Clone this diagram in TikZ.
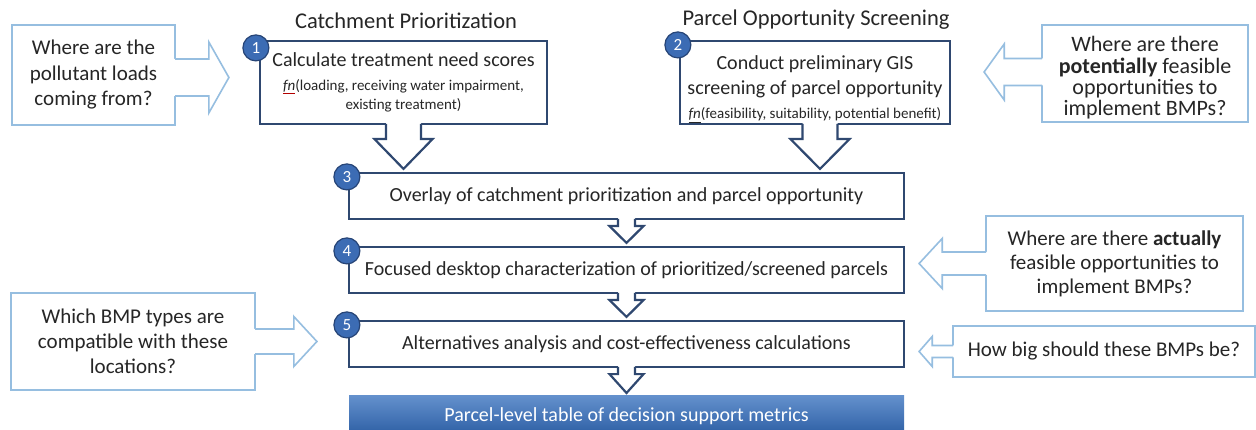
\documentclass[tikz,border=0pt]{standalone}
\usepackage{fontspec}
\setmainfont{Carlito}
\usetikzlibrary{calc}
\definecolor{boxc}{RGB}{47,72,112}
\definecolor{qc}{RGB}{150,190,224}
\definecolor{numfill}{RGB}{60,108,180}
\definecolor{numdraw}{RGB}{38,68,118}
\definecolor{txt}{RGB}{38,38,38}
\definecolor{barTop}{RGB}{100,145,205}
\definecolor{barBot}{RGB}{42,92,162}
\tikzset{
 stepbox/.style={draw=boxc, line width=2.2pt, fill=white, inner sep=0pt, align=center, text=txt},
 qbox/.style={draw=qc, line width=1.6pt, fill=white, inner sep=0pt, align=center, text=txt},
 qline/.style={draw=qc, line width=1.6pt, line join=miter},
 bline/.style={draw=boxc, line width=2.2pt, line join=miter},
 numc/.style={circle, fill=numfill, draw=numdraw, line width=1.2pt, minimum size=26pt, inner sep=0pt, text=white, font=\fontsize{17}{17}\selectfont},
 ttl/.style={text=txt, font=\fontsize{22.5}{22.5}\selectfont},
 barbox/.style={top color=barTop, bottom color=barBot, draw=none, inner sep=0pt, text=white, font=\fontsize{20}{20}\selectfont},
}
\newcommand{\bigtxt}{\fontsize{20}{24}\selectfont}
\newcommand{\smltxt}{\fontsize{15}{19}\selectfont}
\newcommand{\blockdown}[5]{%
 \fill[white] ($(#1)+(-#3,-2)$) -- ($(#1)+(#3,-2)$) -- ($(#1)+(#3,#5)$) -- ($(#1)+(#4,#5)$) -- (#2) -- ($(#1)+(-#4,#5)$) -- ($(#1)+(-#3,#5)$) -- cycle;
 \draw[bline] ($(#1)+(-#3,-1.1)$) -- ($(#1)+(-#3,#5)$) -- ($(#1)+(-#4,#5)$) -- (#2) -- ($(#1)+(#4,#5)$) -- ($(#1)+(#3,#5)$) -- ($(#1)+(#3,-1.1)$);
}
\newcommand{\hcallout}[5]{%
 \coordinate (hcE) at ($(#1)!-1.8pt!(#2)$);
 \coordinate (hcS) at ($(#1)!-0.8pt!(#2)$);
 \fill[white] ($(hcE)+(0,-#3)$) -- ($(#1)+(#5,-#3)$) -- ($(#1)+(#5,-#4)$) -- (#2) -- ($(#1)+(#5,#4)$) -- ($(#1)+(#5,#3)$) -- ($(hcE)+(0,#3)$) -- cycle;
 \draw[qline] ($(hcS)+(0,-#3)$) -- ($(#1)+(#5,-#3)$) -- ($(#1)+(#5,-#4)$) -- (#2) -- ($(#1)+(#5,#4)$) -- ($(#1)+(#5,#3)$) -- ($(hcS)+(0,#3)$);
}
\begin{document}
\begin{tikzpicture}[x=1pt,y=-1pt]
\useasboundingbox (0,0) rectangle (1256,430);
\fill[white] (0,0) rectangle (1256,430);
% titles
\node[ttl] (t1) at (406,21) {Catchment Prioritization};
\node[ttl] (t2) at (816,20) {Parcel Opportunity Screening};
% step boxes
\node[stepbox, minimum width=287pt, minimum height=83pt, font=\fontsize{15}{19}\selectfont] (b1) at (403.5,82.5)
 {{\bigtxt Calculate treatment need scores}\\[4.5pt]
  {\color{red!70!black}\underline{\color{txt}\textit{fn}}}(loading, receiving water impairment,\\
  existing treatment)\rule[-3pt]{0pt}{1pt}};
\node[stepbox, minimum width=270pt, minimum height=83pt, font=\fontsize{15}{24.5}\selectfont] (b2) at (815,82.5)
 {{\bigtxt\rule{0pt}{27pt}Conduct preliminary GIS}\\
  {\bigtxt screening of parcel opportunity}\\
  \underline{\textit{fn}}(feasibility, suitability, potential benefit)};
\node[stepbox, minimum width=555pt, minimum height=46pt, font=\bigtxt] (b3) at (626.5,196)
 {Overlay of catchment prioritization and parcel opportunity};
\node[stepbox, minimum width=555pt, minimum height=46pt, font=\bigtxt] (b4) at (626.5,270)
 {Focused desktop characterization of prioritized/screened parcels};
\node[stepbox, minimum width=555pt, minimum height=46pt, font=\bigtxt] (b5) at (626.5,344)
 {Alternatives analysis and cost-effectiveness calculations};
\node[barbox, minimum width=555pt, minimum height=42pt, anchor=north] (bar) at (626.5,395)
 {Parcel-level table of decision support metrics};
% block arrows between steps
\coordinate (s1) at (b1.south);
\coordinate (e1) at ($(b1.south |- b3.north)+(0,-3)$);
\blockdown{s1}{e1}{17.5}{29}{14}
\coordinate (s2) at ($(b2.south)+(5,0)$);
\coordinate (e2) at ($(s2 |- b3.north)+(0,-3)$);
\blockdown{s2}{e2}{17.5}{29.5}{14}
\coordinate (s3) at (b3.south);
\coordinate (e3) at ($(b3.south |- b4.north)+(0,-3)$);
\blockdown{s3}{e3}{8.5}{17}{6}
\coordinate (s4) at (b4.south);
\coordinate (e4) at ($(b4.south |- b5.north)+(0,-3)$);
\blockdown{s4}{e4}{8.5}{17}{6}
\coordinate (s5) at (b5.south);
\coordinate (e5) at ($(b5.south |- bar.north)+(0,-2)$);
\blockdown{s5}{e5}{8.5}{17}{6}
% question callouts
\node[qbox, minimum width=163pt, minimum height=100pt, font=\fontsize{21}{25.5}\selectfont] (q1) at (93.5,75)
 {Where are the\\pollutant loads\\coming from?};
\coordinate (qa1) at ($(q1.east)+(0,2.5)$);
\coordinate (qt1) at ($(b1.west |- qa1)+(-30,0)$);
\hcallout{qa1}{qt1}{18.5}{35.5}{33}
\node[qbox, minimum width=206pt, minimum height=97pt, font=\fontsize{22}{21.3}\selectfont] (q2) at (1145,73.5)
 {\rule{0pt}{24pt}Where are there\\\textbf{potentially} feasible\\opportunities to\\implement BMPs?};
\coordinate (qa2) at ($(q2.west)+(0,-1.5)$);
\coordinate (qt2) at ($(b2.east |- qa2)+(33,0)$);
\hcallout{qa2}{qt2}{13.5}{28}{-37}
\node[qbox, minimum width=257pt, minimum height=95pt, font=\fontsize{21}{24}\selectfont] (q3) at (1114.5,263.5)
 {Where are there \textbf{actually}\\feasible opportunities to\\implement BMPs?};
\coordinate (qa3) at (q3.west);
\coordinate (qt3) at ($(b4.east |- qa3)+(14,0)$);
\hcallout{qa3}{qt3}{11.5}{25}{-43}
\node[qbox, minimum width=302pt, minimum height=51pt, font=\fontsize{21}{24}\selectfont] (q4) at (1104,351.5)
 {How big should these BMPs be?};
\coordinate (qa4) at (q4.west);
\coordinate (qt4) at ($(b5.east |- qa4)+(14,0)$);
\hcallout{qa4}{qt4}{6}{15}{-20}
\node[qbox, minimum width=244pt, minimum height=97pt, font=\fontsize{21}{25}\selectfont] (q5) at (133,341.5)
 {Which BMP types are\\compatible with these\\locations?};
\coordinate (qa5) at (q5.east);
\coordinate (qt5) at ($(b5.west |- qa5)+(-31,0)$);
\hcallout{qa5}{qt5}{12.5}{25}{38}
% number badges
\node[numc] (n1) at ($(b1.north west)+(-3,8)$) {1};
\node[numc] (n2) at ($(b2.north west)+(-1,5)$) {2};
\node[numc] (n3) at ($(b3.north west)+(-1,5)$) {3};
\node[numc] (n4) at ($(b4.north west)+(-1,5)$) {4};
\node[numc] (n5) at ($(b5.north west)+(-1,5)$) {5};
\end{tikzpicture}
\end{document}
